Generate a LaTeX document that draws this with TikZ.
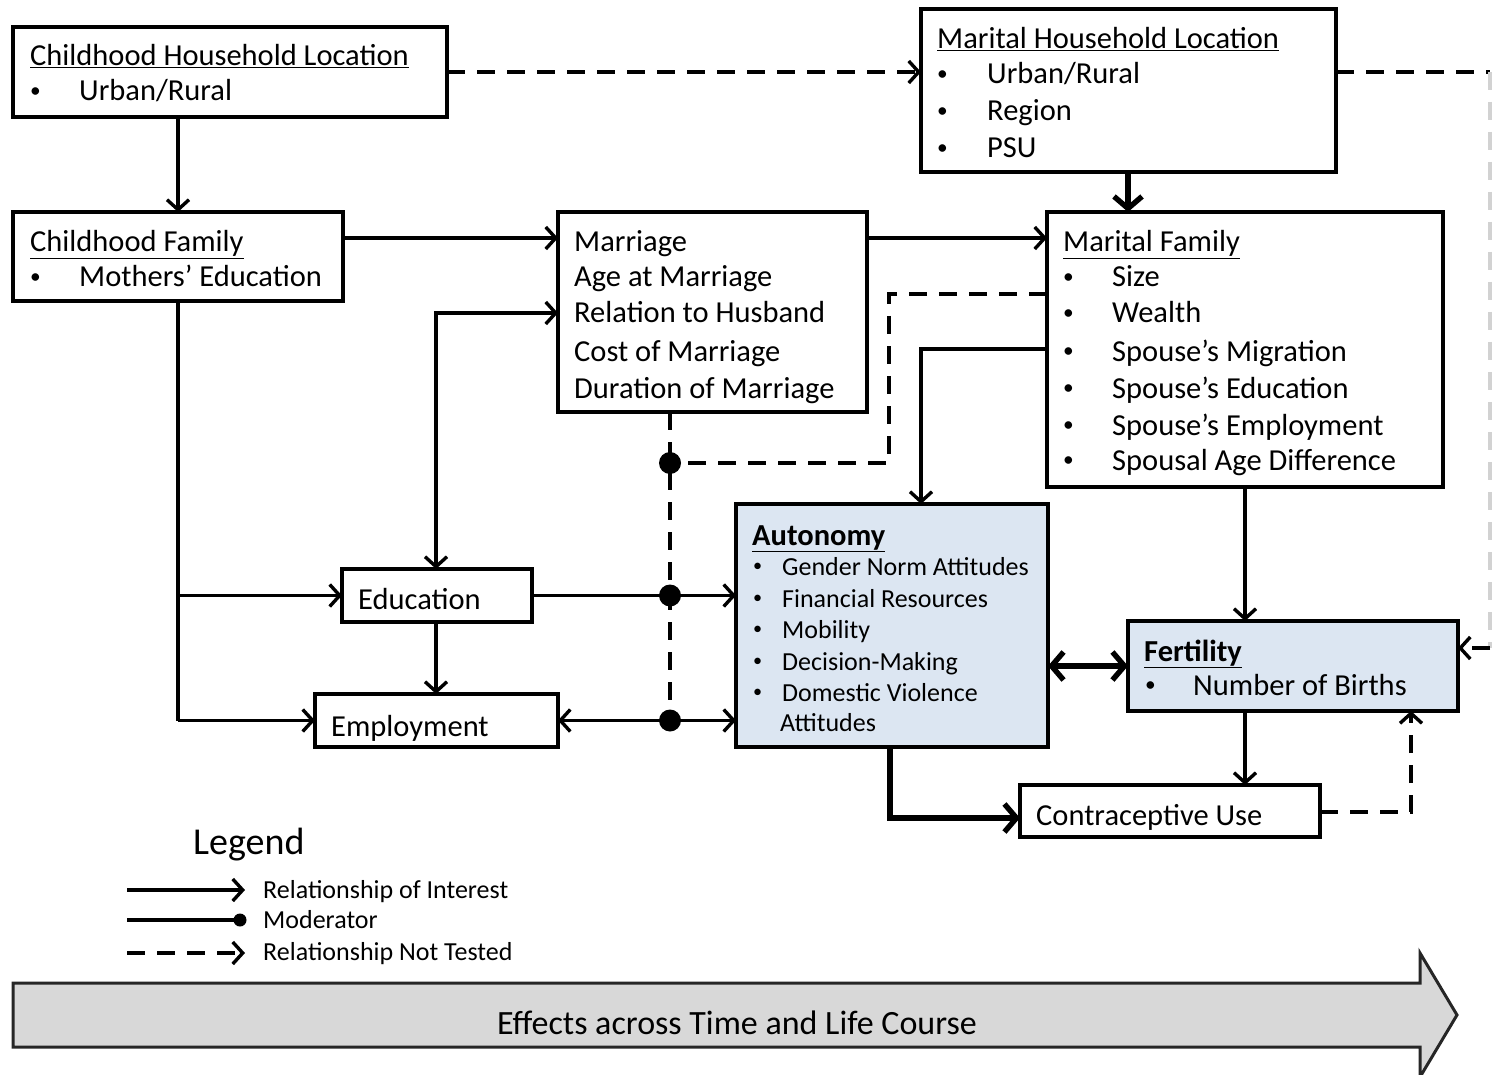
\documentclass[tikz,border=0pt]{standalone}
\usepackage{fontspec}
\setmainfont{Carlito}
\usetikzlibrary{arrows.meta}
\definecolor{boxblue}{RGB}{220,230,242}
\definecolor{bigarrow}{RGB}{216,216,216}
\newcommand{\bul}{\raisebox{0.12em}{\scalebox{0.7}{•}}}
\tikzset{
  box/.style={draw, line width=3.2pt, anchor=north west, inner sep=0pt, outer sep=0pt},
  bluebox/.style={box, fill=boxblue},
  txt/.style={anchor=base west, inner sep=0pt, font=\fontsize{30.5}{36}\selectfont},
  stxt/.style={anchor=base west, inner sep=0pt, font=\fontsize{26}{31}\selectfont},
  ltxt/.style={anchor=base west, inner sep=0pt, font=\fontsize{26}{31}\selectfont},
  conn/.style={line width=3.4pt},
  arr/.style={conn, -{Straight Barb[length=10pt,width=22pt]}},
  arrboth/.style={conn, {Straight Barb[length=10pt,width=22pt]}-{Straight Barb[length=10pt,width=22pt]}},
  tarr/.style={line width=5.4pt, -{Straight Barb[length=12pt,width=28pt]}},
  tarrboth/.style={line width=5.4pt, {Straight Barb[length=12pt,width=28pt]}-{Straight Barb[length=12pt,width=28pt]}},
  dline/.style={conn, dash pattern=on 18pt off 12pt},
  darr/.style={dline, -{Straight Barb[length=10pt,width=22pt]}},
  moddot/.style={circle, fill=black, inner sep=0pt, minimum size=22pt},
}
\begin{document}
\begin{tikzpicture}[x=1pt,y=-1pt]
\useasboundingbox (0,0) rectangle (1494,1075);

% helper coordinates
\coordinate (c1) at (178,0);
\coordinate (c2) at (1128,0);
\coordinate (c3) at (436,0);
\coordinate (c4) at (670,0);
\coordinate (c5) at (889,0);
\coordinate (c6) at (921,0);
\coordinate (c7) at (1245,0);
\coordinate (c8) at (890,0);
\coordinate (c9) at (1411,0);
\coordinate (c10) at (1490,0);
\coordinate (r1) at (0,238);
\coordinate (r2) at (0,313);
\coordinate (r3) at (0,294);
\coordinate (r4) at (0,463);
\coordinate (r5) at (0,349);
\coordinate (r7) at (0,818);
\coordinate (r8) at (0,812);
\coordinate (r10) at (0,648);

% boxes
\node[box, minimum width=434pt, minimum height=90pt] (chl) at (13,27) {};
\node[box, minimum width=415pt, minimum height=163pt] (mhl) at (921,9) {};
\node[box, minimum width=330pt, minimum height=89pt] (cf) at (13,212) {};
\node[box, minimum width=309pt, minimum height=200pt] (mar) at (558,212) {};
\node[box, minimum width=396pt, minimum height=275pt] (mf) at (1047,212) {};
\node[box, minimum width=190pt, minimum height=53pt] (edu) at (342,569) {};
\node[box, minimum width=243pt, minimum height=53pt] (emp) at (315,694) {};
\node[bluebox, minimum width=312pt, minimum height=243pt] (aut) at (736,504) {};
\node[bluebox, minimum width=330pt, minimum height=90pt] (fert) at (1128,621) {};
\node[box, minimum width=300pt, minimum height=52pt] (con) at (1020,785) {};

% texts
\node[txt] (t1) at (30,66) {\underline{Childhood Household Location}};
\node[txt] (t1b) at (30,101) {\bul};
\node[txt] (t1c) at (79,101) {Urban/Rural};

\node[txt] (t2) at (937,49) {\underline{Marital Household Location}};
\node[txt] (t2b1) at (937,84) {\bul};
\node[txt] (t2c1) at (987,84) {Urban/Rural};
\node[txt] (t2b2) at (937,121) {\bul};
\node[txt] (t2c2) at (987,121) {Region};
\node[txt] (t2b3) at (937,158) {\bul};
\node[txt] (t2c3) at (987,158) {PSU};

\node[txt] (t3) at (30,252) {\underline{Childhood Family}};
\node[txt] (t3b) at (30,287) {\bul};
\node[txt] (t3c) at (79,287) {Mothers’ Education};

\node[txt] (t4a) at (574,252) {Marriage};
\node[txt] (t4b) at (574,287) {Age at Marriage};
\node[txt] (t4c) at (574,323) {Relation to Husband};
\node[txt] (t4d) at (574,361) {Cost of Marriage};
\node[txt] (t4e) at (574,398) {Duration of Marriage};

\node[txt] (t5) at (1063,252) {\underline{Marital Family}};
\node[txt] (t5b1) at (1063,287) {\bul};
\node[txt] (t5c1) at (1112,287) {Size};
\node[txt] (t5b2) at (1063,323) {\bul};
\node[txt] (t5c2) at (1112,323) {Wealth};
\node[txt] (t5b3) at (1063,361) {\bul};
\node[txt] (t5c3) at (1112,361) {Spouse’s Migration};
\node[txt] (t5b4) at (1063,398) {\bul};
\node[txt] (t5c4) at (1112,398) {Spouse’s Education};
\node[txt] (t5b5) at (1063,435) {\bul};
\node[txt] (t5c5) at (1112,435) {Spouse’s Employment};
\node[txt] (t5b6) at (1063,470) {\bul};
\node[txt] (t5c6) at (1112,470) {Spousal Age Difference};

\node[txt] (t6) at (358,609) {Education};
\node[txt] (t7) at (331,736) {Employment};
\node[txt] (t8) at (1036,825) {Contraceptive Use};

\node[anchor=base west, inner sep=0pt, font=\fontsize{30.5}{36}\selectfont] (t9) at (752,545) {\textbf{\underline{Autonomy}}};
\node[stxt] (t9b1) at (753,575) {\bul};
\node[stxt] (t9c1) at (782,575) {Gender Norm Attitudes};
\node[stxt] (t9b2) at (753,607) {\bul};
\node[stxt] (t9c2) at (782,607) {Financial Resources};
\node[stxt] (t9b3) at (753,638) {\bul};
\node[stxt] (t9c3) at (782,638) {Mobility};
\node[stxt] (t9b4) at (753,670) {\bul};
\node[stxt] (t9c4) at (782,670) {Decision-Making};
\node[stxt] (t9b5) at (753,701) {\bul};
\node[stxt] (t9c5) at (782,701) {Domestic Violence};
\node[stxt] (t9c6) at (780,731) {Attitudes};

\node[txt] (t10) at (1144,661) {\textbf{\underline{Fertility}}};
\node[txt] (t10b) at (1145,695) {\bul};
\node[txt] (t10c) at (1193,695) {Number of Births};

% connectors
\draw[darr] (chl.east) -- (mhl.west |- chl.east);
\draw[arr] (chl.south -| c1) -- (cf.north -| c1);
\draw[arr] (cf.east |- r1) -- (mar.west |- r1);
\draw[arr] (mar.east |- r1) -- (mf.west |- r1);
\draw[tarr] (mhl.south -| c2) -- (mf.north -| c2);
\draw[conn] (cf.south -| c1) -- (c1 |- emp.west);
\draw[arr] (c1 |- edu.west) -- (edu.west);
\draw[arr] (c1 |- emp.west) -- (emp.west);
\draw[arrboth] (edu.north -| c3) -- (c3 |- r2) -- (mar.west |- r2);
\draw[arr] (edu.south -| c3) -- (emp.north -| c3);
\draw[dline] (mar.south -| c4) -- (c4 |- emp.east);
\draw[dline] (mf.west |- r3) -| (c5 |- r4) -- (c4 |- r4);
\draw[arr] (edu.east) -- (aut.west |- edu.east);
\draw[arrboth] (emp.east) -- (aut.west |- emp.east);
\node[moddot] (d1) at (c4 |- r4) {};
\node[moddot] (d2) at (c4 |- edu.east) {};
\node[moddot] (d3) at (c4 |- emp.east) {};
\draw[arr] (mf.west |- r5) -| (aut.north -| c6);
\draw[arr] (mf.south -| c7) -- (fert.north -| c7);
\draw[tarrboth] (aut.east |- fert.west) -- (fert.west);
\draw[tarr] (aut.south -| c8) |- (con.west |- r7);
\draw[arr] (fert.south -| c7) -- (con.north -| c7);
\draw[darr] (con.east |- r8) -| (fert.south -| c9);
\draw[dline] (mhl.east |- chl.east) -- (c10 |- chl.east);
\draw[conn, gray!35, dash pattern=on 18pt off 12pt] (c10 |- chl.east) -- (c10 |- r10);
\draw[darr] (c10 |- r10) -- (fert.east |- r10);

% legend
\node[anchor=base west, inner sep=0pt, font=\fontsize{38}{44}\selectfont] (lg) at (193,854) {Legend};
\coordinate (l1a) at (127,890);
\coordinate (l1b) at (245,890);
\coordinate (l2a) at (127,920);
\coordinate (l2b) at (240,920);
\coordinate (l3a) at (127,953);
\coordinate (l3b) at (245,953);
\draw[arr] (l1a) -- (l1b);
\draw[conn] (l2a) -- (l2b);
\node[circle, fill=black, inner sep=0pt, minimum size=13pt] (ld) at (l2b) {};
\draw[darr] (l3a) -- (l3b);
\node[ltxt] (lt1) at (263,898) {Relationship of Interest};
\node[ltxt] (lt2) at (263,928) {Moderator};
\node[ltxt] (lt3) at (263,960) {Relationship Not Tested};

% time arrow
\draw[line width=3pt, draw=black!85, fill=bigarrow, line join=miter]
  (13,983) -- (1420,983) -- (1420,953) -- (1457,1015) -- (1420,1077) -- (1420,1047) -- (13,1047) -- cycle;
\node[anchor=base, inner sep=0pt, font=\fontsize{34}{40}\selectfont] (ta) at (737,1034) {Effects across Time and Life Course};
\end{tikzpicture}
\end{document}
